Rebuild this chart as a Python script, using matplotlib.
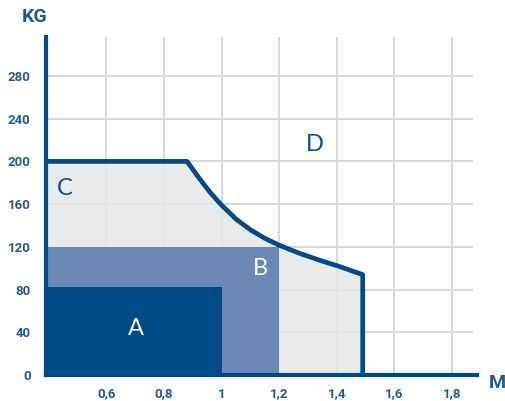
import numpy as np
import matplotlib.pyplot as plt

# load limits
x_min = 0.39
zone_a_x, zone_a_kg = 1.0, 82
zone_b_x, zone_b_kg = 1.2, 120

# outer limit (zone C): flat 200 kg, then a falling curve down to 1.49 m
curve_x = [0.39, 0.88, 0.92, 0.96, 1.00, 1.05, 1.10, 1.15, 1.20,
           1.27, 1.34, 1.41, 1.49, 1.49]
curve_kg = [200, 200, 185, 171, 159, 146, 136, 128, 121.5,
            114, 107.5, 101.5, 94, 0]

x_ticks = [0.6, 0.8, 1.0, 1.2, 1.4, 1.6, 1.8]
x_labels = ['0,6', '0,8', '1', '1,2', '1,4', '1,6', '1,8']
y_ticks = [0, 40, 80, 120, 160, 200, 240, 280]

zone_labels = ['A', 'B', 'C', 'D']
zone_label_pos = [(0.704, 44), (1.136, 100), (0.454, 175), (1.323, 216)]
zone_label_col = ['white', 'white', '#0a4f8a', '#0a4f8a']

dark = '#004b87'
mid = '#6a8ab4'
light = '#e6e7e9'
grid = '#d9d9d9'
txt = '#1f5b90'

fig = plt.figure(figsize=(5.05, 4.01), dpi=100)
ax = fig.add_axes([46 / 505, 26 / 401, 431 / 505, 338 / 401])
ax.set_xlim(x_min, 1.887)
ax.set_ylim(0, 316.5)

# grid
ax.hlines(y_ticks[1:], x_min, 1.873, color=grid, lw=1.5, zorder=0)
ax.vlines(x_ticks, 0, 316.5, color=grid, lw=1.5, zorder=0)

# zones
ax.fill_between(curve_x, curve_kg, color=light, alpha=0.85, lw=0, zorder=1)
ax.bar(x_min, zone_b_kg, width=zone_b_x - x_min, align='edge', color=mid, lw=0, zorder=2)
ax.bar(x_min, zone_a_kg, width=zone_a_x - x_min, align='edge', color=dark, lw=0, zorder=3)
ax.plot(curve_x, curve_kg, color=dark, lw=3.4, solid_joinstyle='round', zorder=4)

for lab, (px, py), c in zip(zone_labels, zone_label_pos, zone_label_col):
    ax.text(px, py, lab, color=c, fontsize=17, fontweight='normal',
            family=['Lato', 'DejaVu Sans'], ha='center', va='center', zorder=5)

# axes
for s in ['top', 'right']:
    ax.spines[s].set_visible(False)
for s in ['left', 'bottom']:
    ax.spines[s].set_color(dark)
    ax.spines[s].set_linewidth(3)
    ax.spines[s].set_zorder(6)

ax.set_xticks(x_ticks)
ax.set_xticklabels(x_labels)
ax.set_yticks(y_ticks)
ax.tick_params(length=0, labelcolor=txt, labelsize=9.5)
ax.tick_params(axis='x', pad=9)
ax.tick_params(axis='y', pad=11)
for t in ax.get_xticklabels() + ax.get_yticklabels():
    t.set_fontweight('bold')
    t.set_family('Roboto')

fig.text(35 / 505, 1 - 17 / 401, 'KG', color=txt, fontsize=14, fontweight='bold',
         family='Roboto', ha='center', va='center')
fig.text(497 / 505, 1 - 383 / 401, 'M', color=txt, fontsize=14, fontweight='bold',
         family='Roboto', ha='center', va='center')

fig.savefig('out.png', dpi=100)
